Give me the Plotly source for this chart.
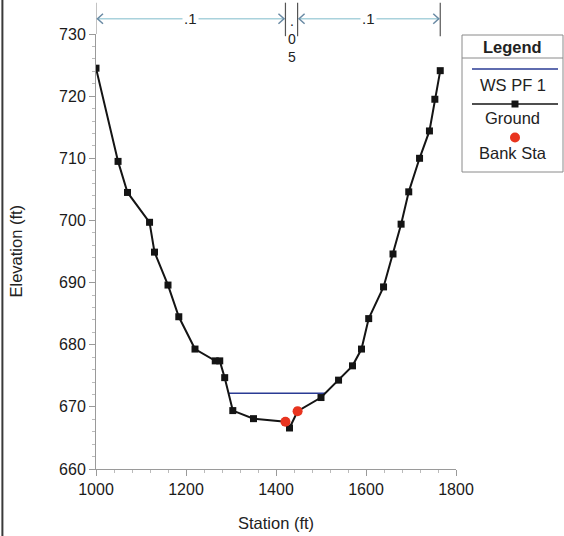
import numpy as np
import plotly.graph_objects as go

# ---------------- data ----------------
ground_sta = [1000, 1049, 1070, 1119, 1130, 1160, 1184, 1220, 1265, 1275, 1286, 1304, 1350,
              1421, 1430, 1448, 1500, 1539, 1570, 1590, 1606, 1639, 1660, 1678, 1695, 1719,
              1741, 1753, 1765]
ground_elev = [724.5, 709.5, 704.5, 699.7, 694.9, 689.6, 684.5, 679.3, 677.4, 677.4, 674.7, 669.4, 668.1,
               667.6, 666.6, 669.3, 671.5, 674.3, 676.6, 679.3, 684.2, 689.3, 694.6, 699.4, 704.6, 710.0,
               714.4, 719.5, 724.1]
bank_sta = [1421, 1448]
bank_elev = [667.6, 669.3]
ws_elev = 672.2
n_breaks = [1000, 1421, 1448, 1765]
n_values = [".1", ".05", ".1"]
x_ticks = [1000, 1200, 1400, 1600, 1800]
y_ticks = [660, 670, 680, 690, 700, 710, 720, 730]

# water surface extent: crossings of ground profile
gs = np.array(ground_sta, float)
ge = np.array(ground_elev, float)
imin = int(np.argmin(ge))
def crossing(i0, i1):
    a, b = ge[i0], ge[i1]
    t = (a - ws_elev) / (a - b)
    return gs[i0] + t * (gs[i1] - gs[i0])
left_x = None
for i in range(imin, 0, -1):
    if ge[i - 1] >= ws_elev >= ge[i]:
        left_x = crossing(i - 1, i)
        break
right_x = None
for i in range(imin, len(ge) - 1):
    if ge[i] <= ws_elev <= ge[i + 1]:
        right_x = crossing(i + 1, i)
        break

BLACK = "#141414"
WS_COL = "#2a3b94"
RED = "#e8341f"
AX = "#9a9a9a"
TXT = "#222222"
FONT = "Liberation Sans, Arial, sans-serif"

fig = go.Figure()
fig.add_trace(go.Scatter(x=[left_x, right_x], y=[ws_elev, ws_elev], mode="lines",
                         line=dict(color=WS_COL, width=1.5), showlegend=False, hoverinfo="skip"))
fig.add_trace(go.Scatter(x=ground_sta, y=ground_elev, mode="lines+markers",
                         line=dict(color=BLACK, width=2),
                         marker=dict(symbol="square", size=7, color=BLACK),
                         showlegend=False))
fig.add_trace(go.Scatter(x=bank_sta, y=bank_elev, mode="markers",
                         marker=dict(symbol="circle", size=10, color=RED),
                         showlegend=False))

shapes = []
annots = []

# Manning's n region markers above plot
Y_TOP = 1.072
Y_BOT = 0.995
Y_ARR = 1.035
for k, s in enumerate(n_breaks):
    shapes.append(dict(type="line", xref="x", yref="paper", x0=s, x1=s,
                       y0=(1.0 if k == 0 else Y_BOT), y1=Y_TOP,
                       line=dict(color="#555555" if k else AX, width=1.2)))
ARR_LINE = "#a9d2dc"
CHEV = "#6a8aa4"
for k, val in enumerate(n_values):
    a, b = n_breaks[k], n_breaks[k + 1]
    if val == ".05":
        annots.append(dict(x=(a + b) / 2, y=0.9885, xref="x", yref="paper",
                           text=".<br>0<br>5", showarrow=False, xanchor="center", yanchor="middle",
                           font=dict(family=FONT, size=14, color=TXT)))
        continue
    shapes.append(dict(type="line", xref="x", yref="paper", x0=a + 2, x1=b - 2,
                       y0=Y_ARR, y1=Y_ARR, line=dict(color=ARR_LINE, width=1.5)))
    shapes.append(dict(type="path", xref="x", yref="paper", xsizemode="pixel", ysizemode="pixel",
                       xanchor=a, yanchor=Y_ARR, path="M 7 5 L 1.5 0 L 7 -5",
                       line=dict(color=CHEV, width=1.5)))
    shapes.append(dict(type="path", xref="x", yref="paper", xsizemode="pixel", ysizemode="pixel",
                       xanchor=b, yanchor=Y_ARR, path="M -7 5 L -1.5 0 L -7 -5",
                       line=dict(color=CHEV, width=1.5)))
    annots.append(dict(x=(a + b) / 2, y=Y_ARR, xref="x", yref="paper", text=val,
                       showarrow=False, bgcolor="white", borderpad=1,
                       xanchor="center", yanchor="middle",
                       font=dict(family=FONT, size=15, color=TXT)))

# axis titles
annots.append(dict(x=0.5, y=-0.123, xref="paper", yref="paper", text="Station (ft)",
                   showarrow=False, xanchor="center", yanchor="middle",
                   font=dict(family=FONT, size=16.5, color=TXT)))
annots.append(dict(x=-0.225, y=0.5, xref="paper", yref="paper", text="Elevation (ft)",
                   showarrow=False, textangle=-90, xanchor="center", yanchor="middle",
                   font=dict(family=FONT, size=16.5, color=TXT)))

# left frame edge of picture
shapes.append(dict(type="line", xref="paper", yref="paper", x0=-0.26, x1=-0.26, y0=-0.16, y1=1.08,
                   line=dict(color="#3a3a3a", width=2)))

# manual legend
def px2x(px):
    return (px - 96) / 360.0
def py2y(py):
    return (469 - py) / 435.0
LX0, LX1, LY0, LY1 = px2x(462), px2x(563), py2y(172), py2y(35)
LCX = px2x(512.5)
shapes.append(dict(type="rect", xref="paper", yref="paper", x0=LX0, x1=LX1, y0=LY0, y1=LY1,
                   line=dict(color="#8a8a8a", width=1), fillcolor="white", layer="below"))
shapes.append(dict(type="line", xref="paper", yref="paper", x0=LX0, x1=LX1, y0=py2y(58), y1=py2y(58),
                   line=dict(color="#8a8a8a", width=1)))
def leg_text(txt, py, size=16.5):
    annots.append(dict(x=LCX, y=py2y(py), xref="paper", yref="paper", text=txt,
                       showarrow=False, xanchor="center", yanchor="middle",
                       font=dict(family=FONT, size=size, color=TXT)))
leg_text("<b>Legend</b>", 46.5, 16.5)
shapes.append(dict(type="line", xref="paper", yref="paper", x0=px2x(472), x1=px2x(558),
                   y0=py2y(69), y1=py2y(69), line=dict(color=WS_COL, width=1.5)))
leg_text("WS PF 1", 85)
shapes.append(dict(type="line", xref="paper", yref="paper", x0=px2x(472), x1=px2x(558),
                   y0=py2y(104), y1=py2y(104), line=dict(color=BLACK, width=1.5)))
shapes.append(dict(type="rect", xref="paper", yref="paper", xsizemode="pixel", ysizemode="pixel",
                   xanchor=px2x(515), yanchor=py2y(104), x0=-3.5, x1=3.5, y0=-3.5, y1=3.5,
                   fillcolor=BLACK, line=dict(width=0)))
leg_text("Ground", 118)
shapes.append(dict(type="circle", xref="paper", yref="paper", xsizemode="pixel", ysizemode="pixel",
                   xanchor=px2x(515), yanchor=py2y(137.5), x0=-5, x1=5, y0=-5, y1=5,
                   fillcolor=RED, line=dict(width=0)))
leg_text("Bank Sta", 153)

fig.update_layout(
    width=564, height=536,
    margin=dict(l=96, r=108, t=34, b=67),
    paper_bgcolor="white", plot_bgcolor="white",
    font=dict(family=FONT, size=16, color=TXT),
    shapes=shapes, annotations=annots,
    xaxis=dict(range=[1000, 1800], tickvals=x_ticks, ticktext=[str(v) for v in x_ticks],
               showgrid=False, zeroline=False, showline=True, linecolor=AX, linewidth=1,
               ticks="outside", ticklen=6, tickcolor=AX, tickfont=dict(size=16, color="#1a1a1a"),
               minor=dict(dtick=40, ticks="outside", ticklen=3, tickcolor="#bbbbbb")),
    yaxis=dict(range=[660, 730], tickvals=y_ticks, ticktext=[str(v) for v in y_ticks],
               showgrid=False, zeroline=False, showline=True, linecolor=AX, linewidth=1,
               ticks="outside", ticklen=6, tickcolor=AX, tickfont=dict(size=16, color="#1a1a1a"),
               minor=dict(dtick=2, ticks="outside", ticklen=3, tickcolor="#bbbbbb")),
)

fig.write_html("out.html")
